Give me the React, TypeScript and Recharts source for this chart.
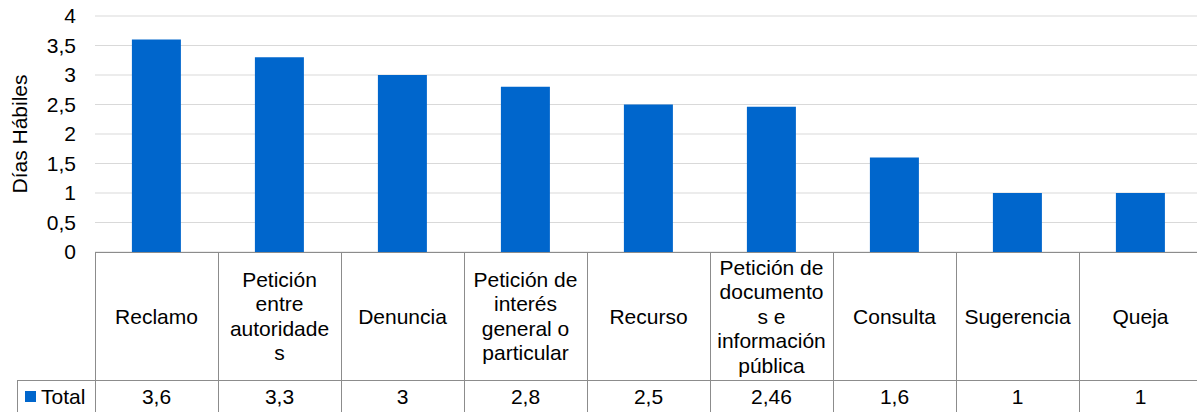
import React from 'react';
import { BarChart, Bar, XAxis, YAxis, CartesianGrid } from 'recharts';

const categories = [
  'Reclamo',
  'Petición entre autoridades',
  'Denuncia',
  'Petición de interés general o particular',
  'Recurso',
  'Petición de documentos e información pública',
  'Consulta',
  'Sugerencia',
  'Queja',
];
const categoryLabelLines = [
  ['Reclamo'],
  ['Petición', 'entre', 'autoridade', 's'],
  ['Denuncia'],
  ['Petición de', 'interés', 'general o', 'particular'],
  ['Recurso'],
  ['Petición de', 'documento', 's e', 'información', 'pública'],
  ['Consulta'],
  ['Sugerencia'],
  ['Queja'],
];
const totalValues = [3.6, 3.3, 3, 2.8, 2.5, 2.46, 1.6, 1, 1];
const yTicks = [0, 0.5, 1, 1.5, 2, 2.5, 3, 3.5, 4];
const seriesName = 'Total';
const yAxisTitle = 'Días Hábiles';

const data = categories.map((c, i) => ({ category: c, total: totalValues[i] }));

const CHART_W = 1202;
const CHART_H = 412;
const Y_AXIS_W = 95;
const MARGIN_TOP = 16;
const X_AXIS_H = 160;
const BAND = (CHART_W - Y_AXIS_W) / categories.length;
const CAT_ROW_H = 128;
const VAL_ROW_H = 32;
const LINE_H = 24.5;
const BORDER = '#8c8c8c';
const BAR_COLOR = '#0066CC';
const FONT = '"Liberation Sans", Arial, sans-serif';
const FS = 21;

const fmt = (v: number) => String(v).replace('.', ',');

function TableTick(props: any) {
  const { x, y, payload } = props;
  const i = props.index ?? payload.index;
  const left = x - BAND / 2;
  const right = x + BAND / 2;
  const lines = categoryLabelLines[i] || [];
  const midY = y + CAT_ROW_H / 2;
  const startY = midY - ((lines.length - 1) * LINE_H) / 2;
  const valY = y + CAT_ROW_H;
  const bottom = y + CAT_ROW_H + VAL_ROW_H;
  const lineProps = { stroke: BORDER, strokeWidth: 1, shapeRendering: 'crispEdges' as const };
  return (
    <g>
      <line x1={left} y1={y} x2={right} y2={y} {...lineProps} />
      <line x1={left} y1={y} x2={left} y2={bottom} {...lineProps} />
      <line x1={right} y1={y} x2={right} y2={bottom} {...lineProps} />
      <line x1={left} y1={valY} x2={right} y2={valY} {...lineProps} />
      <line x1={left} y1={bottom} x2={right} y2={bottom} {...lineProps} />
      {lines.map((t: string, k: number) => (
        <text
          key={k}
          x={x}
          y={startY + k * LINE_H}
          textAnchor="middle"
          dominantBaseline="central"
          fontSize={FS}
          fontFamily={FONT}
          fill="#000"
        >
          {t}
        </text>
      ))}
      <text
        x={x}
        y={valY + VAL_ROW_H / 2}
        textAnchor="middle"
        dominantBaseline="central"
        fontSize={FS}
        fontFamily={FONT}
        fill="#000"
      >
        {fmt(totalValues[i])}
      </text>
      {i === 0 && (
        <g>
          <line x1={left - 78} y1={valY} x2={left} y2={valY} {...lineProps} />
          <line x1={left - 78} y1={valY} x2={left - 78} y2={bottom} {...lineProps} />
          <line x1={left - 78} y1={bottom} x2={left} y2={bottom} {...lineProps} />
          <rect x={left - 70} y={valY + 11} width={11} height={11} fill={BAR_COLOR} />
          <text
            x={left - 54}
            y={valY + VAL_ROW_H / 2}
            dominantBaseline="central"
            fontSize={FS}
            fontFamily={FONT}
            fill="#000"
          >
            {seriesName}
          </text>
        </g>
      )}
    </g>
  );
}

export default function App() {
  return (
    <div
      style={{
        position: 'absolute',
        left: 0,
        top: 0,
        width: 1197,
        height: 412,
        overflow: 'hidden',
        background: '#fff',
      }}
    >
      <BarChart
        width={CHART_W}
        height={CHART_H}
        data={data}
        margin={{ top: MARGIN_TOP, right: 0, left: 0, bottom: 0 }}
        barCategoryGap="30%"
        style={{ fontFamily: FONT }}
      >
        <CartesianGrid vertical={false} stroke="#d9d9d9" horizontalValues={yTicks} />
        <XAxis
          dataKey="category"
          height={X_AXIS_H}
          axisLine={false}
          tickLine={false}
          tickSize={0}
          tickMargin={0}
          interval={0}
          tick={(p: any) => <TableTick {...p} />}
        />
        <YAxis
          width={Y_AXIS_W}
          domain={[0, 4]}
          ticks={yTicks}
          interval={0}
          axisLine={false}
          tickLine={false}
          tickMargin={13}
          tickFormatter={fmt}
          tick={{ fill: '#000', fontSize: FS, fontFamily: FONT }}
          label={{
            value: yAxisTitle,
            angle: -90,
            position: 'insideLeft',
            offset: 20,
            style: { textAnchor: 'middle', fontSize: FS, fill: '#000', fontFamily: FONT },
          }}
        />
        <Bar dataKey="total" name={seriesName} fill={BAR_COLOR} isAnimationActive={false} />
      </BarChart>
    </div>
  );
}
